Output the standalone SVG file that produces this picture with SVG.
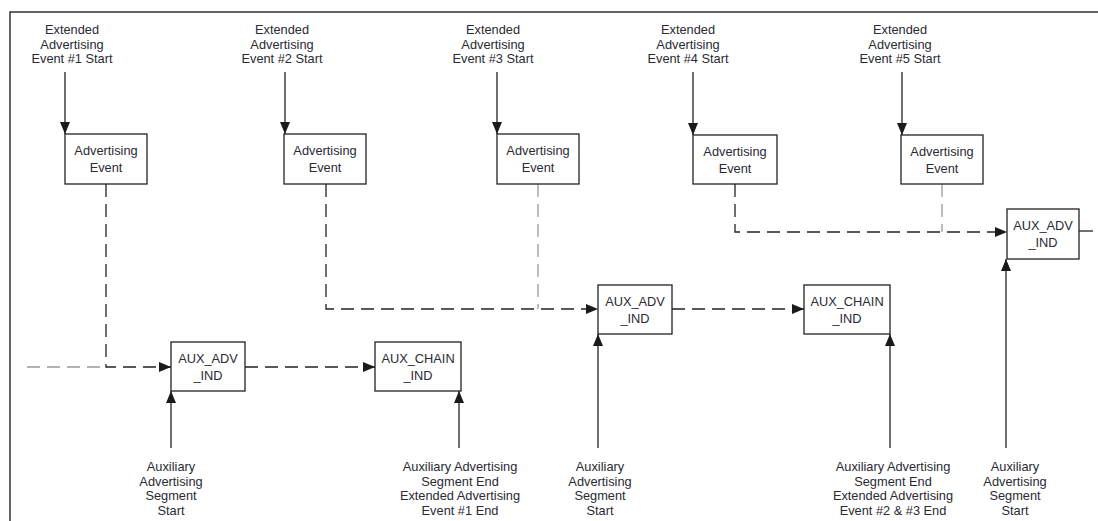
<svg xmlns="http://www.w3.org/2000/svg" width="1098" height="521" viewBox="0 0 1098 521">
<style>
.t{font-family:"Liberation Sans",Arial,sans-serif;font-size:12.8px;fill:#2a2a33;text-anchor:middle}
.b{fill:#fff;stroke:#222;stroke-width:1.3}
.s{fill:none;stroke:#222;stroke-width:1.3}
.d{fill:none;stroke:#222;stroke-width:1.3;stroke-dasharray:13 7}
.g{fill:none;stroke:#9a9a9a;stroke-width:1.3;stroke-dasharray:13 7}
.f{fill:none;stroke:#333;stroke-width:1.5}
</style>
<defs>
<marker id="ah" viewBox="0 0 12 10" refX="12" refY="5" markerWidth="12" markerHeight="10" markerUnits="userSpaceOnUse" orient="auto">
<path d="M0,0 L12,5 L0,10 z" fill="#1a1a1a"/>
</marker>
</defs>
<rect width="1098" height="521" fill="#fff"/>
<path class="f" d="M10,521 V12 H1098"/>

<g id="connectors">
<path class="s" d="M65,72 V134" marker-end="url(#ah)"/>
<path class="s" d="M285,72 V134" marker-end="url(#ah)"/>
<path class="s" d="M497,72 V134" marker-end="url(#ah)"/>
<path class="s" d="M693,72 V135" marker-end="url(#ah)"/>
<path class="s" d="M902,72 V135" marker-end="url(#ah)"/>
<path class="g" d="M27,367 H106"/>
<path class="d" d="M106,184 V367 H171" marker-end="url(#ah)"/>
<path class="d" d="M245,367 H375" marker-end="url(#ah)"/>
<path class="g" d="M538,184 V309"/>
<path class="d" d="M326,184 V309 H598" marker-end="url(#ah)"/>
<path class="d" d="M672,309 H804" marker-end="url(#ah)"/>
<path class="g" d="M942,184 V232"/>
<path class="d" d="M735,184 V232 H1007" marker-end="url(#ah)"/>
<path class="s" d="M1079,231 H1093" stroke="#555"/>
<path class="s" d="M171,448 V391" marker-end="url(#ah)"/>
<path class="s" d="M459,448 V391" marker-end="url(#ah)"/>
<path class="s" d="M598,448 V334" marker-end="url(#ah)"/>
<path class="s" d="M890,448 V334" marker-end="url(#ah)"/>
<path class="s" d="M1006,448 V259" marker-end="url(#ah)"/>
</g>

<g id="label-ext1"><text class="t" x="72" y="34">Extended</text><text class="t" x="72" y="48.5">Advertising</text><text class="t" x="72" y="63">Event #1 Start</text></g>
<g id="label-ext2"><text class="t" x="282" y="34">Extended</text><text class="t" x="282" y="48.5">Advertising</text><text class="t" x="282" y="63">Event #2 Start</text></g>
<g id="label-ext3"><text class="t" x="493" y="34">Extended</text><text class="t" x="493" y="48.5">Advertising</text><text class="t" x="493" y="63">Event #3 Start</text></g>
<g id="label-ext4"><text class="t" x="688" y="34">Extended</text><text class="t" x="688" y="48.5">Advertising</text><text class="t" x="688" y="63">Event #4 Start</text></g>
<g id="label-ext5"><text class="t" x="900" y="34">Extended</text><text class="t" x="900" y="48.5">Advertising</text><text class="t" x="900" y="63">Event #5 Start</text></g>

<g id="adv1"><rect class="b" x="65" y="134" width="82" height="50"/><text class="t" x="106" y="155">Advertising</text><text class="t" x="106" y="172">Event</text></g>
<g id="adv2"><rect class="b" x="284" y="134" width="82" height="50"/><text class="t" x="325" y="155">Advertising</text><text class="t" x="325" y="172">Event</text></g>
<g id="adv3"><rect class="b" x="497" y="134" width="82" height="50"/><text class="t" x="538" y="155">Advertising</text><text class="t" x="538" y="172">Event</text></g>
<g id="adv4"><rect class="b" x="693" y="135" width="84" height="49"/><text class="t" x="735" y="156">Advertising</text><text class="t" x="735" y="173">Event</text></g>
<g id="adv5"><rect class="b" x="901" y="135" width="82" height="49"/><text class="t" x="942" y="156">Advertising</text><text class="t" x="942" y="173">Event</text></g>

<g id="auxadv1"><rect class="b" x="171" y="342" width="74" height="49"/><text class="t" x="208" y="363">AUX_ADV</text><text class="t" x="208" y="380">_IND</text></g>
<g id="auxchain1"><rect class="b" x="375" y="342" width="86" height="49"/><text class="t" x="418" y="363">AUX_CHAIN</text><text class="t" x="418" y="380">_IND</text></g>
<g id="auxadv2"><rect class="b" x="598" y="285" width="74" height="49"/><text class="t" x="635" y="306">AUX_ADV</text><text class="t" x="635" y="323">_IND</text></g>
<g id="auxchain2"><rect class="b" x="804" y="285" width="86" height="49"/><text class="t" x="847" y="306">AUX_CHAIN</text><text class="t" x="847" y="323">_IND</text></g>
<g id="auxadv3"><rect class="b" x="1007" y="209" width="72" height="50"/><text class="t" x="1043" y="230">AUX_ADV</text><text class="t" x="1043" y="247">_IND</text></g>

<g id="label-seg1"><text class="t" x="171" y="471">Auxiliary</text><text class="t" x="171" y="485.5">Advertising</text><text class="t" x="171" y="500">Segment</text><text class="t" x="171" y="514.5">Start</text></g>
<g id="label-end1"><text class="t" x="460" y="471">Auxiliary Advertising</text><text class="t" x="460" y="485.5">Segment End</text><text class="t" x="460" y="500">Extended Advertising</text><text class="t" x="460" y="514.5">Event #1 End</text></g>
<g id="label-seg2"><text class="t" x="600" y="471">Auxiliary</text><text class="t" x="600" y="485.5">Advertising</text><text class="t" x="600" y="500">Segment</text><text class="t" x="600" y="514.5">Start</text></g>
<g id="label-end2"><text class="t" x="893" y="471">Auxiliary Advertising</text><text class="t" x="893" y="485.5">Segment End</text><text class="t" x="893" y="500">Extended Advertising</text><text class="t" x="893" y="514.5">Event #2 &amp; #3 End</text></g>
<g id="label-seg3"><text class="t" x="1015" y="471">Auxiliary</text><text class="t" x="1015" y="485.5">Advertising</text><text class="t" x="1015" y="500">Segment</text><text class="t" x="1015" y="514.5">Start</text></g>
</svg>
